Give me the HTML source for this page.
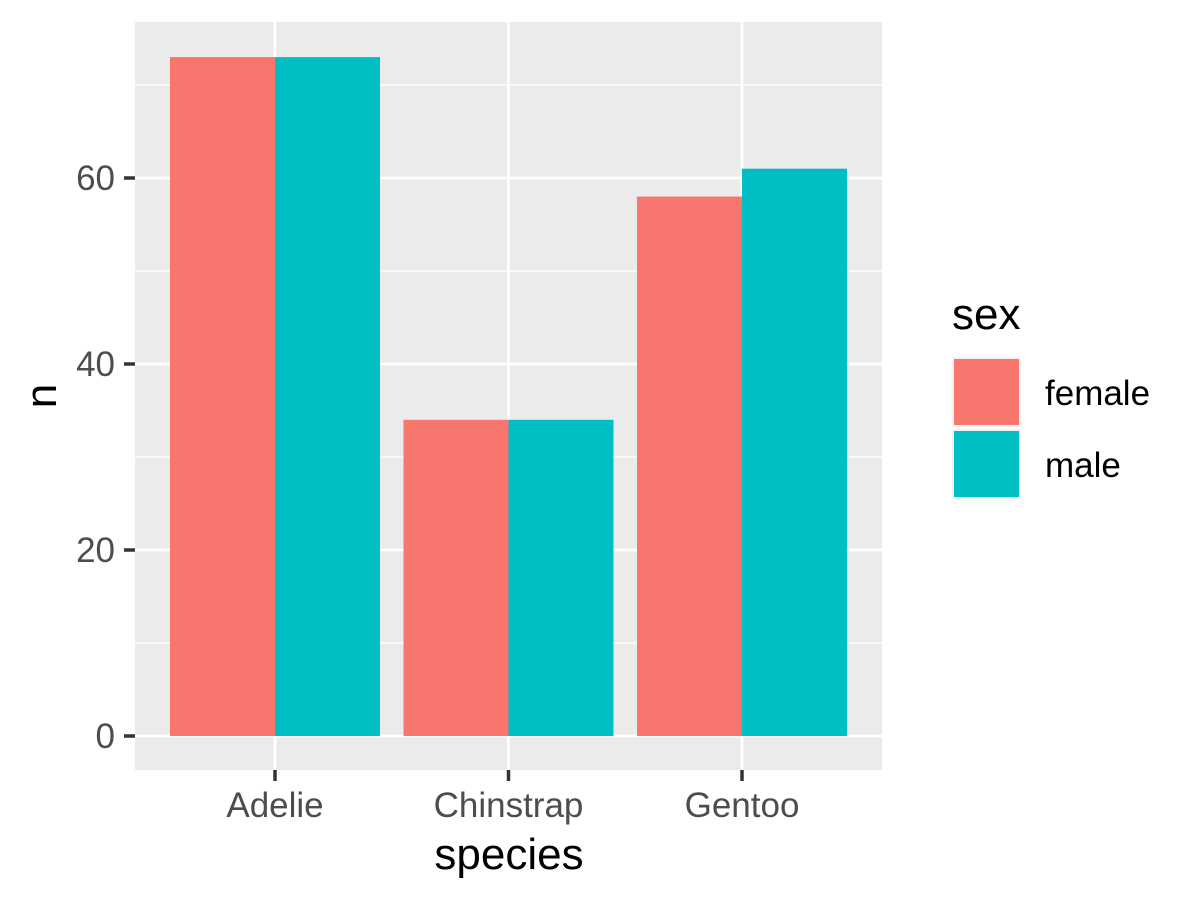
<!DOCTYPE html>
<html><head><meta charset="utf-8"><style>
body{margin:0;background:#fff}
svg{display:block;font-family:"Liberation Sans",sans-serif}
</style></head><body>
<svg width="1200" height="900">
<rect x="135" y="22" width="747" height="748" fill="#EBEBEB"/>
<g id="grid"></g>
<g id="bars"></g>
<g id="axes"></g>
<text x="509" y="869" font-size="44" text-anchor="middle" fill="#000">species</text>
<text transform="translate(56,396) rotate(-90)" font-size="44" text-anchor="middle" fill="#000">n</text>
<g>
<text x="952" y="329" font-size="44" fill="#000">sex</text>
<rect x="952" y="357" width="69" height="70" fill="#F2F2F2"/>
<rect x="954" y="359" width="65" height="66" fill="#F8766D"/>
<text x="1045" y="405" font-size="35" fill="#000">female</text>
<rect x="952" y="429" width="69" height="70" fill="#F2F2F2"/>
<rect x="954" y="431" width="65" height="66" fill="#00BFC4"/>
<text x="1045" y="477" font-size="35" fill="#000">male</text>
</g>
</svg>
<script>
const categories=["Adelie","Chinstrap","Gentoo"];
const femaleValues=[73,34,58];
const maleValues=[73,34,61];
const yTicks=[0,20,40,60];
const yMinor=[10,30,50,70];
const NS="http://www.w3.org/2000/svg";
function y(v){return 736-v*9.3;}
function x(i){return 275+i*233.5;}
const bw=105;
function mk(tag,attrs,parent){const e=document.createElementNS(NS,tag);for(const k in attrs)e.setAttribute(k,attrs[k]);document.getElementById(parent).appendChild(e);return e;}
yMinor.forEach(v=>{const l=mk('line',{x1:135,x2:882,y1:y(v),y2:y(v),stroke:'#fff','stroke-width':1.2},'grid');

});
yTicks.forEach(v=>{const l=mk('line',{x1:135,x2:882,y1:y(v),y2:y(v),stroke:'#fff','stroke-width':2.7},'grid');


const t=mk('line',{x1:124,x2:135,y1:y(v),y2:y(v),stroke:'#333','stroke-width':3.5},'axes');


const tx=mk('text',{x:115,y:y(v)+12,'font-size':35,'text-anchor':'end',fill:'#4D4D4D'},'axes');tx.textContent=v;

});
categories.forEach((c,i)=>{const l=mk('line',{x1:x(i),x2:x(i),y1:22,y2:770,stroke:'#fff','stroke-width':2.7},'grid');


const f=mk('rect',{x:x(i)-bw,y:y(femaleValues[i]),width:bw,height:y(0)-y(femaleValues[i]),fill:'#F8766D'},'bars');


const m=mk('rect',{x:x(i),y:y(maleValues[i]),width:bw,height:y(0)-y(maleValues[i]),fill:'#00BFC4'},'bars');


const t=mk('line',{x1:x(i),x2:x(i),y1:770,y2:781,stroke:'#333','stroke-width':3.5},'axes');


const tx=mk('text',{x:x(i),y:817,'font-size':35,'text-anchor':'middle',fill:'#4D4D4D'},'axes');tx.textContent=c;

});
</script>
</body></html>
